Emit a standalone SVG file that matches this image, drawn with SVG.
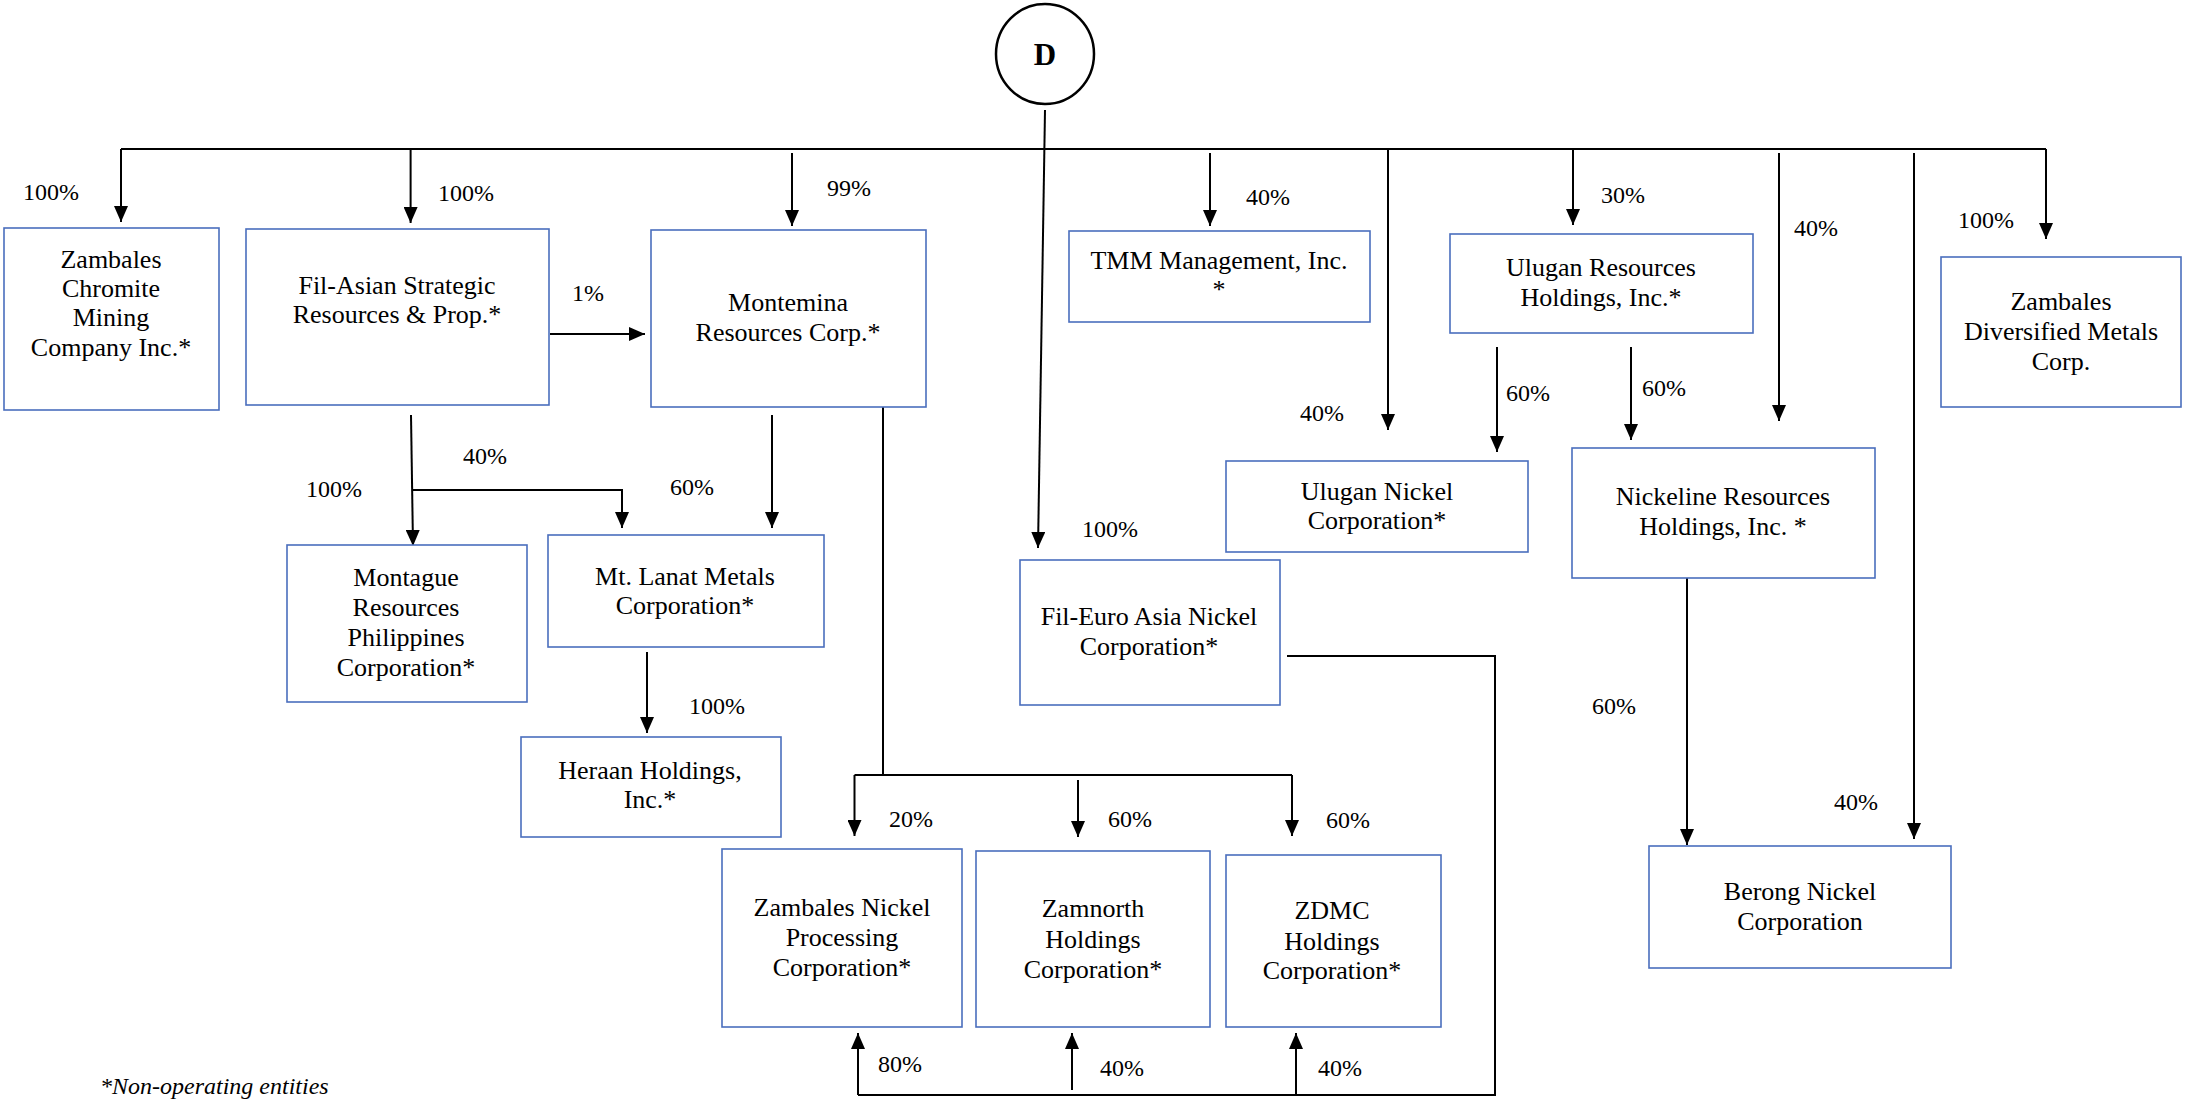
<svg xmlns="http://www.w3.org/2000/svg" width="2190" height="1104" viewBox="0 0 2190 1104">
<style>
.box{fill:#fff;stroke:#4a6ebd;stroke-width:1.6}
.t{font-family:"Liberation Serif",serif;font-size:26px;fill:#000;text-anchor:middle}
.p{font-family:"Liberation Serif",serif;font-size:24px;fill:#000}
.c{fill:none;stroke:#000;stroke-width:2}
.a{fill:none;stroke:#000;stroke-width:2;marker-end:url(#ah)}
</style>
<defs>
<marker id="ah" markerUnits="userSpaceOnUse" markerWidth="16" markerHeight="14" refX="16" refY="7" orient="auto">
<path d="M0,0 L16,7 L0,14 z" fill="#000"/>
</marker>
</defs>
<rect width="2190" height="1104" fill="#fff"/>

<g id="connectors">
<path class="c" d="M121,149 H2046"/>
<path class="a" d="M1045,110 L1038,548"/>
<path class="a" d="M121,149 V222"/>
<path class="a" d="M410.6,149 V223"/>
<path class="a" d="M792,153 V226"/>
<path class="a" d="M1210,153 V226"/>
<path class="a" d="M1388,149 V430"/>
<path class="a" d="M1573,149 V225"/>
<path class="a" d="M1779,153 V421"/>
<path class="a" d="M1914,153 V839"/>
<path class="a" d="M2046,149 V239"/>
<path class="a" d="M1497,347 V452"/>
<path class="a" d="M1631,347 V440"/>
<path class="a" d="M1687,578 V845"/>
<path class="a" d="M550,334 H645"/>
<path class="a" d="M411,415 L413,546"/>
<path class="a" d="M413,490 H622 V528"/>
<path class="a" d="M772,415 V528"/>
<path class="c" d="M883,407 V775"/>
<path class="c" d="M854.5,775 H1292"/>
<path class="a" d="M854.5,775 V836"/>
<path class="a" d="M1078,780 V837"/>
<path class="a" d="M1292,775 V836"/>
<path class="a" d="M647,652 V733"/>
<path class="c" d="M1287,656 H1495 V1095 H858"/>
<path class="a" d="M858,1095 V1033"/>
<path class="a" d="M1296,1095 V1033"/>
<path class="a" d="M1072,1090 V1033"/>
</g>

<g id="labels">
<text class="p" x="23" y="200">100%</text>
<text class="p" x="438" y="201">100%</text>
<text class="p" x="572" y="301">1%</text>
<text class="p" x="827" y="196">99%</text>
<text class="p" x="1246" y="205">40%</text>
<text class="p" x="1300" y="421">40%</text>
<text class="p" x="1601" y="203">30%</text>
<text class="p" x="1794" y="236">40%</text>
<text class="p" x="1958" y="228">100%</text>
<text class="p" x="1506" y="401">60%</text>
<text class="p" x="1642" y="396">60%</text>
<text class="p" x="1592" y="714">60%</text>
<text class="p" x="1834" y="810">40%</text>
<text class="p" x="1082" y="537">100%</text>
<text class="p" x="463" y="464">40%</text>
<text class="p" x="306" y="497">100%</text>
<text class="p" x="670" y="495">60%</text>
<text class="p" x="689" y="714">100%</text>
<text class="p" x="889" y="827">20%</text>
<text class="p" x="1108" y="827">60%</text>
<text class="p" x="1326" y="828">60%</text>
<text class="p" x="878" y="1072">80%</text>
<text class="p" x="1100" y="1076">40%</text>
<text class="p" x="1318" y="1076">40%</text>
</g>

<g id="D">
<ellipse cx="1045" cy="54" rx="49" ry="50" fill="#fff" stroke="#000" stroke-width="2.5"/>
<text x="1045" y="65" font-family="Liberation Serif,serif" font-size="31" font-weight="bold" text-anchor="middle">D</text>
</g>

<g id="zambales-chromite">
<rect class="box" x="4" y="228" width="215" height="182"/>
<text class="t" x="111" y="268">Zambales</text>
<text class="t" x="111" y="297">Chromite</text>
<text class="t" x="111" y="326">Mining</text>
<text class="t" x="111" y="356">Company Inc.*</text>
</g>

<g id="fil-asian">
<rect class="box" x="246" y="229" width="303" height="176"/>
<text class="t" x="397" y="294">Fil-Asian Strategic</text>
<text class="t" x="397" y="323">Resources &amp; Prop.*</text>
</g>

<g id="montemina">
<rect class="box" x="651" y="230" width="275" height="177"/>
<text class="t" x="788" y="311">Montemina</text>
<text class="t" x="788" y="341">Resources Corp.*</text>
</g>

<g id="tmm">
<rect class="box" x="1069" y="231" width="301" height="91"/>
<text class="t" x="1219" y="269">TMM Management, Inc.</text>
<text class="t" x="1219" y="298">*</text>
</g>

<g id="ulugan-resources">
<rect class="box" x="1450" y="234" width="303" height="99"/>
<text class="t" x="1601" y="276">Ulugan Resources</text>
<text class="t" x="1601" y="306">Holdings, Inc.*</text>
</g>

<g id="zambales-diversified">
<rect class="box" x="1941" y="257" width="240" height="150"/>
<text class="t" x="2061" y="310">Zambales</text>
<text class="t" x="2061" y="340">Diversified Metals</text>
<text class="t" x="2061" y="370">Corp.</text>
</g>

<g id="ulugan-nickel">
<rect class="box" x="1226" y="461" width="302" height="91"/>
<text class="t" x="1377" y="500">Ulugan Nickel</text>
<text class="t" x="1377" y="529">Corporation*</text>
</g>

<g id="nickeline">
<rect class="box" x="1572" y="448" width="303" height="130"/>
<text class="t" x="1723" y="505">Nickeline Resources</text>
<text class="t" x="1723" y="535">Holdings, Inc. *</text>
</g>

<g id="berong">
<rect class="box" x="1649" y="846" width="302" height="122"/>
<text class="t" x="1800" y="900">Berong Nickel</text>
<text class="t" x="1800" y="930">Corporation</text>
</g>

<g id="fil-euro">
<rect class="box" x="1020" y="560" width="260" height="145"/>
<text class="t" x="1149" y="625">Fil-Euro Asia Nickel</text>
<text class="t" x="1149" y="655">Corporation*</text>
</g>

<g id="montague">
<rect class="box" x="287" y="545" width="240" height="157"/>
<text class="t" x="406" y="586">Montague</text>
<text class="t" x="406" y="616">Resources</text>
<text class="t" x="406" y="646">Philippines</text>
<text class="t" x="406" y="676">Corporation*</text>
</g>

<g id="mt-lanat">
<rect class="box" x="548" y="535" width="276" height="112"/>
<text class="t" x="685" y="585">Mt. Lanat Metals</text>
<text class="t" x="685" y="614">Corporation*</text>
</g>

<g id="heraan">
<rect class="box" x="521" y="737" width="260" height="100"/>
<text class="t" x="650" y="779">Heraan Holdings,</text>
<text class="t" x="650" y="808">Inc.*</text>
</g>

<g id="znpc">
<rect class="box" x="722" y="849" width="240" height="178"/>
<text class="t" x="842" y="916">Zambales Nickel</text>
<text class="t" x="842" y="946">Processing</text>
<text class="t" x="842" y="976">Corporation*</text>
</g>

<g id="zamnorth">
<rect class="box" x="976" y="851" width="234" height="176"/>
<text class="t" x="1093" y="917">Zamnorth</text>
<text class="t" x="1093" y="948">Holdings</text>
<text class="t" x="1093" y="978">Corporation*</text>
</g>

<g id="zdmc">
<rect class="box" x="1226" y="855" width="215" height="172"/>
<text class="t" x="1332" y="919">ZDMC</text>
<text class="t" x="1332" y="950">Holdings</text>
<text class="t" x="1332" y="979">Corporation*</text>
</g>

<text x="100" y="1094" font-family="Liberation Serif,serif" font-size="24" font-style="italic">*Non-operating entities</text>
</svg>
